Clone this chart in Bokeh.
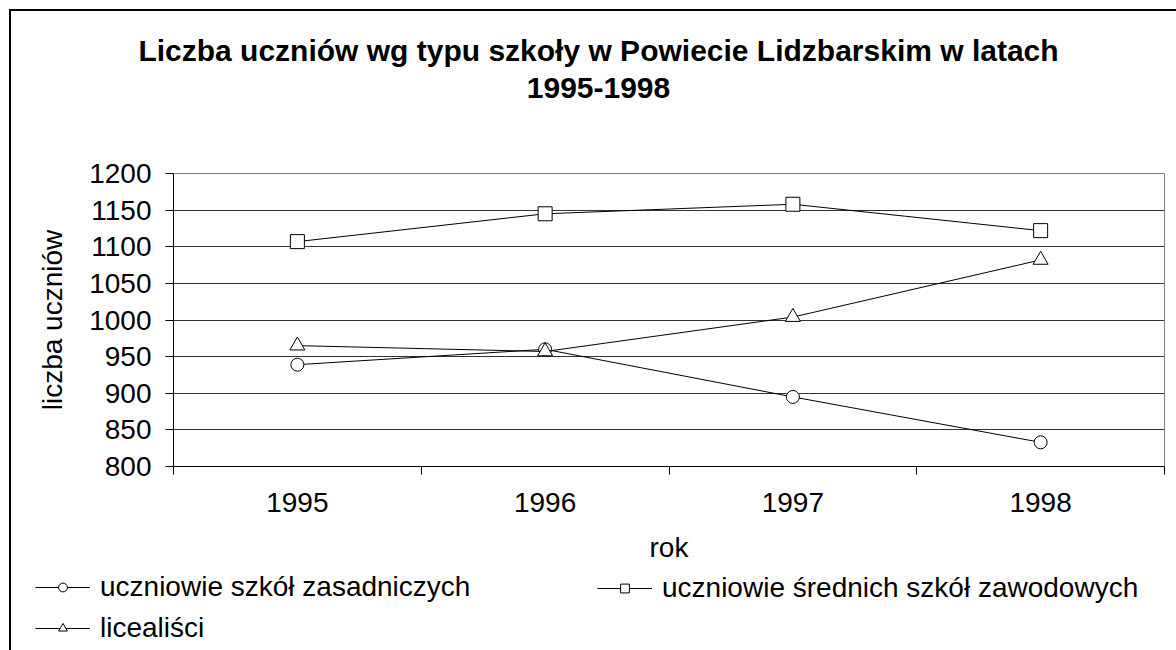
from bokeh.plotting import figure
from bokeh.layouts import column
from bokeh.models import (FixedTicker, Range1d, Label, Legend, LegendItem, ColumnDataSource)
from bokeh.embed import file_html
from bokeh.resources import INLINE

years = ["1995", "1996", "1997", "1998"]
zasadnicze = [939, 960, 895, 833]
srednie_zawodowe = [1107, 1145, 1158, 1122]
licealisci = [965, 957, 1004, 1082]

series_names = ["uczniowie szkół zasadniczych",
                "uczniowie średnich szkół zawodowych",
                "licealiści"]
y_ticks = [800, 850, 900, 950, 1000, 1050, 1100, 1150, 1200]

title_line1 = "Liczba uczniów wg typu szkoły w Powiecie Lidzbarskim w latach"
title_line2 = "1995-1998"
x_title = "rok"
y_title = "liczba uczniów"

FONT = "Liberation Sans"
W = 1165

xpos = [i + 0.5 for i in range(len(years))]
markers = ["circle", "square", "triangle"]
sizes = [13, 14, 15]
data = [zasadnicze, srednie_zawodowe, licealisci]


def bare_figure(h):
    f = figure(width=W, height=h, output_backend="svg", toolbar_location=None,
               x_range=Range1d(0, 1), y_range=Range1d(0, 1),
               x_axis_type=None, y_axis_type=None,
               min_border_left=0, min_border_right=0, min_border_top=0,
               min_border_bottom=0, title=None, frame_align=False)
    f.outline_line_color = None
    f.grid.visible = False
    f.background_fill_color = "white"
    f.border_fill_color = "white"
    return f


# ---- title ----
p_title = bare_figure(110)
for txt, cx, cy in [(title_line1, 587, 71), (title_line2, 587, 34)]:
    p_title.add_layout(Label(x=cx, y=cy, x_units="screen", y_units="screen", text=txt,
                             text_align="center", text_baseline="middle",
                             text_font=FONT, text_font_size="30px",
                             text_font_style="bold", text_color="black"))

# ---- main chart ----
p = figure(width=W, height=451, output_backend="svg", toolbar_location=None,
           x_range=Range1d(0, len(years)), y_range=Range1d(800, 1200),
           min_border_left=162, min_border_right=12, min_border_top=52,
           min_border_bottom=106, title=None)
p.background_fill_color = "white"
p.border_fill_color = "white"
p.outline_line_color = "#808080"
p.outline_line_width = 1

p.xaxis.ticker = FixedTicker(ticks=xpos, minor_ticks=list(range(len(years) + 1)))
p.xaxis.major_label_overrides = {x: y for x, y in zip(xpos, years)}
p.xaxis.major_tick_line_color = None
p.xaxis.major_tick_out = 8
p.xaxis.major_tick_in = 0
p.xaxis.minor_tick_line_color = "black"
p.xaxis.minor_tick_out = 8
p.xaxis.minor_tick_in = 0
p.xaxis.axis_line_color = "black"
p.xaxis.major_label_text_font = FONT
p.xaxis.major_label_text_font_size = "28px"
p.xaxis.major_label_text_color = "black"
p.xaxis.major_label_standoff = 18
p.xaxis.axis_label = x_title
p.xaxis.axis_label_text_font = FONT
p.xaxis.axis_label_text_font_size = "28px"
p.xaxis.axis_label_text_font_style = "normal"
p.xaxis.axis_label_text_color = "black"
p.xaxis.axis_label_standoff = 17
p.xgrid.grid_line_color = None

p.yaxis.ticker = FixedTicker(ticks=y_ticks)
p.yaxis.major_tick_line_color = "black"
p.yaxis.major_tick_out = 8
p.yaxis.major_tick_in = 0
p.yaxis.minor_tick_line_color = None
p.yaxis.axis_line_color = "black"
p.yaxis.major_label_text_font = FONT
p.yaxis.major_label_text_font_size = "28px"
p.yaxis.major_label_text_color = "black"
p.yaxis.major_label_standoff = 14
p.yaxis.axis_label = y_title
p.yaxis.axis_label_text_font = FONT
p.yaxis.axis_label_text_font_size = "28px"
p.yaxis.axis_label_text_font_style = "normal"
p.yaxis.axis_label_text_color = "black"
p.yaxis.axis_label_standoff = 18
p.ygrid.grid_line_color = "#333333"
p.ygrid.grid_line_width = 1

for vals, m, s in zip(data, markers, sizes):
    src = ColumnDataSource(dict(x=xpos, y=vals))
    p.line("x", "y", source=src, line_color="black", line_width=1)
    p.scatter("x", "y", source=src, marker=m, size=s, fill_color="white",
              line_color="black", line_width=1)

# ---- legend (its renderers carry the same data, which lies outside this strip's range) ----
p_leg = bare_figure(78)
items = []
for name, vals, m in zip(series_names, data, markers):
    src = ColumnDataSource(dict(x=xpos, y=vals))
    lr = p_leg.line("x", "y", source=src, line_color="black", line_width=1)
    sr = p_leg.scatter("x", "y", source=src, marker=m, size=8, fill_color="white",
                       line_color="black", line_width=1)
    items.append(LegendItem(label=name, renderers=[lr, sr]))


def make_legend(its, loc):
    return Legend(items=its, location=loc, orientation="vertical",
                  glyph_width=55, glyph_height=22, label_height=22,
                  label_standoff=10, spacing=9, padding=0, margin=0,
                  border_line_color=None, background_fill_alpha=0,
                  label_text_font=FONT, label_text_font_size="28px",
                  label_text_color="black")


p_leg.add_layout(make_legend([items[0], items[2]], (24, 6)), "center")
p_leg.add_layout(make_legend([items[1]], (586, 46)), "center")

layout = column(p_title, p, p_leg, spacing=0)
layout.styles = {"margin-left": "9px", "margin-top": "9px",
                 "border-left": "2px solid black", "border-top": "2px solid black"}

open("out.html", "w").write(file_html(layout, INLINE))
